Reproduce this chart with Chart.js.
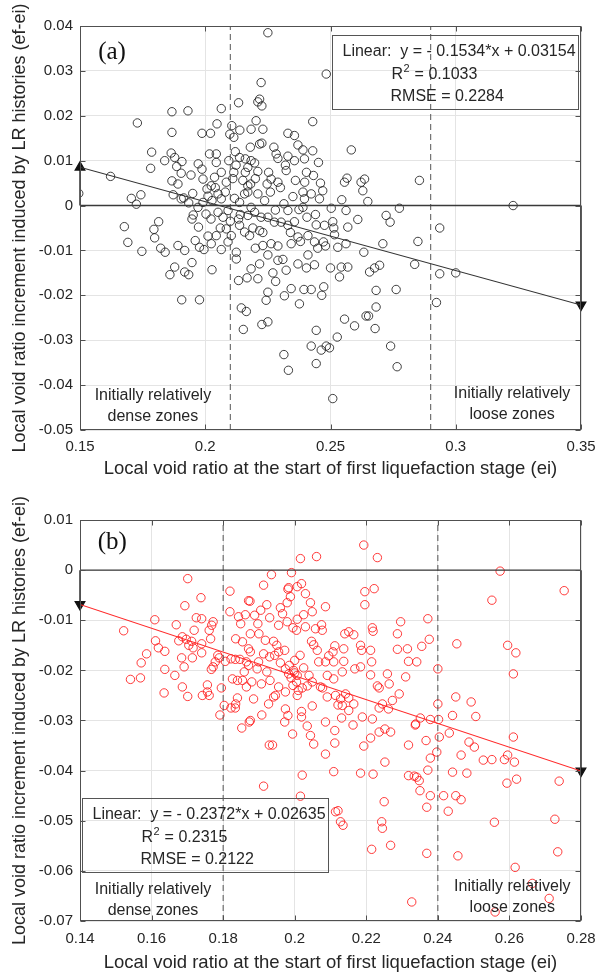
<!DOCTYPE html>
<html>
<head>
<meta charset="utf-8">
<script src="https://cdn.jsdelivr.net/npm/chart.js@4.4.1/dist/chart.umd.min.js"></script>
<style>
  html, body { margin: 0; padding: 0; background: #fff; }
  #wrap { position: relative; width: 611px; height: 973px; }
  canvas { position: absolute; left: 0; }
  #chartA { top: 0; }
  #chartB { top: 486px; }
</style>
</head>
<body>
<div id="wrap">
  <canvas id="chartA" width="611" height="486"></canvas>
  <canvas id="chartB" width="611" height="487"></canvas>
</div>
<script>
// ---------- panel (a) ----------
const xTicksA = [0.15, 0.2, 0.25, 0.3, 0.35]
const yTicksA = [0.04, 0.03, 0.02, 0.01, 0, -0.01, -0.02, -0.03, -0.04, -0.05]
const zonesA = [0.21, 0.29]
const fitA = { slope: -0.1534, icpt: 0.03154, r2: "0.1033", rmse: "0.2284" }
// [ei, ef-ei]
const pointsA = [
  [0.1495,0.0027],[0.1622,0.0065],[0.1705,0.0016],[0.1725,0.0003],[0.1743,0.0024],[0.1729,0.0184],
  [0.1677,-0.0047],[0.1691,-0.0082],[0.1747,-0.0102],[0.1786,0.0119],[0.1782,0.0083],[0.1838,0.0100],
  [0.1814,-0.0036],[0.1795,-0.0053],[0.1798,-0.0072],[0.1822,-0.0095],[0.1840,-0.0104],[0.1867,0.0209],
  [0.1931,0.0211],[0.1867,0.0163],[0.2064,0.0216],[0.2133,0.0229],[0.1987,0.0161],[0.2021,0.0161],
  [0.2047,0.0182],[0.1864,0.0117],[0.1878,0.0107],[0.1907,0.0098],[0.1886,0.0087],[0.1904,0.0072],
  [0.1867,0.0055],[0.1891,0.0048],[0.1872,0.0024],[0.1904,0.0015],[0.1914,0.0017],[0.1943,0.0068],
  [0.1950,0.0027],[0.1934,0.0006],[0.1972,0.0093],[0.1987,0.0081],[0.2017,0.0115],[0.2044,0.0115],
  [0.2044,0.0096],[0.1991,0.0059],[0.2007,0.0037],[0.2024,0.0044],[0.2037,0.0063],[0.2064,0.0074],
  [0.2084,0.0052],[0.2094,0.0100],[0.2123,0.0090],[0.2114,0.0074],[0.2098,0.0159],[0.2114,0.0152],
  [0.2106,0.0178],[0.2138,0.0168],[0.1971,-0.0004],[0.1991,0.0007],[0.2011,0.0021],[0.2027,0.0011],
  [0.2051,0.0026],[0.2064,0.0015],[0.1952,-0.0021],[0.1947,-0.0030],[0.1973,-0.0048],[0.2003,-0.0019],
  [0.2023,-0.0030],[0.2051,-0.0015],[0.2071,-0.0026],[0.2091,-0.0011],[0.1891,-0.0089],[0.1918,-0.0100],
  [0.1960,-0.0078],[0.1977,-0.0093],[0.1995,-0.0098],[0.2011,-0.0068],[0.2024,-0.0085],[0.2044,-0.0067],
  [0.2064,-0.0098],[0.2084,-0.0052],[0.2091,-0.0081],[0.2104,-0.0067],[0.2124,-0.0104],[0.1878,-0.0137],
  [0.1859,-0.0154],[0.1918,-0.0148],[0.1934,-0.0154],[0.1947,-0.0127],[0.2027,-0.0143],[0.1906,-0.0210],
  [0.1977,-0.0210],[0.2133,-0.0167],[0.2144,-0.0228],[0.2164,-0.0236],[0.2152,-0.0276],[0.2117,0.0016],
  [0.2137,0.0007],[0.2157,0.0026],[0.2133,-0.0030],[0.2137,-0.0044],[0.2157,-0.0059],[0.2124,-0.0119],
  [0.2167,-0.0161],[0.2137,0.0107],[0.2160,0.0104],[0.2150,0.0056],[0.2170,0.0044],[0.2160,0.0074],
  [0.2250,0.0385],[0.2483,0.0293],[0.2223,0.0274],[0.2217,0.0237],[0.2226,0.0222],[0.2210,0.0231],
  [0.2203,0.0189],[0.2230,0.0170],[0.2183,0.0170],[0.2217,0.0137],[0.2226,0.0139],[0.2330,0.0161],
  [0.2356,0.0156],[0.2429,0.0187],[0.2583,0.0124],[0.2274,0.0130],[0.2283,0.0115],[0.2290,0.0105],
  [0.2370,0.0135],[0.2390,0.0124],[0.2429,0.0122],[0.2396,0.0104],[0.2452,0.0096],[0.2356,0.0100],
  [0.2183,0.0100],[0.2170,0.0085],[0.2197,0.0095],[0.2210,0.0076],[0.2253,0.0074],[0.2263,0.0059],
  [0.2247,0.0048],[0.2290,0.0052],[0.2323,0.0078],[0.2360,0.0056],[0.2404,0.0074],[0.2432,0.0067],
  [0.2397,0.0052],[0.2181,0.0048],[0.2170,0.0030],[0.2210,0.0026],[0.2237,0.0011],[0.2183,-0.0004],
  [0.2314,0.0004],[0.2330,-0.0011],[0.2374,-0.0009],[0.2396,0.0015],[0.2423,0.0026],[0.2456,0.0015],
  [0.2469,0.0033],[0.2390,-0.0004],[0.2406,-0.0026],[0.2503,-0.0006],[0.2545,0.0013],[0.2556,0.0052],
  [0.2566,0.0061],[0.2622,0.0052],[0.2636,0.0059],[0.2629,0.0033],[0.2649,0.0009],[0.2562,-0.0011],
  [0.2609,-0.0031],[0.2569,-0.0048],[0.2509,-0.0036],[0.2513,-0.0050],[0.2476,-0.0044],[0.2443,-0.0043],
  [0.2722,-0.0022],[0.2738,-0.0037],[0.2775,-0.0006],[0.2709,-0.0085],[0.2855,0.0056],[0.2849,-0.0080],
  [0.2170,-0.0022],[0.2197,-0.0015],[0.2223,-0.0026],[0.2250,-0.0026],[0.2276,-0.0037],[0.2303,-0.0037],
  [0.2330,-0.0044],[0.2356,-0.0036],[0.2177,-0.0067],[0.2217,-0.0056],[0.2230,-0.0089],[0.2263,-0.0085],
  [0.2290,-0.0090],[0.2343,-0.0085],[0.2370,-0.0070],[0.2410,-0.0067],[0.2436,-0.0081],[0.2449,-0.0095],
  [0.2472,-0.0081],[0.2516,-0.0065],[0.2529,-0.0093],[0.2562,-0.0085],[0.2633,-0.0104],[0.2183,-0.0141],
  [0.2217,-0.0130],[0.2290,-0.0122],[0.2323,-0.0144],[0.2370,-0.0130],[0.2404,-0.0139],[0.2436,-0.0132],
  [0.2500,-0.0139],[0.2536,-0.0159],[0.2569,-0.0137],[0.2543,-0.0137],[0.2656,-0.0148],[0.2676,-0.0139],
  [0.2696,-0.0133],[0.2210,-0.0163],[0.2250,-0.0193],[0.2281,-0.0169],[0.2316,-0.0201],[0.2343,-0.0185],
  [0.2376,-0.0219],[0.2394,-0.0187],[0.2423,-0.0187],[0.2465,-0.0200],[0.2473,-0.0181],[0.2243,-0.0211],
  [0.2682,-0.0189],[0.2682,-0.0226],[0.2652,-0.0246],[0.2642,-0.0246],[0.2678,-0.0274],[0.2762,-0.0187],
  [0.2556,-0.0253],[0.2596,-0.0268],[0.2226,-0.0265],[0.2250,-0.0259],[0.2443,-0.0278],[0.2527,-0.0293],
  [0.2423,-0.0313],[0.2483,-0.0313],[0.2496,-0.0317],[0.2463,-0.0322],[0.2314,-0.0332],[0.2443,-0.0352],
  [0.2332,-0.0367],[0.2740,-0.0313],[0.2766,-0.0359],[0.2509,-0.0430],[0.3229,0.0000],[0.2936,-0.0050],
  [0.2836,-0.0131],[0.2936,-0.0152],[0.3000,-0.0150],[0.2923,-0.0216],
  [0.2120,0.0120],[0.2180,0.0130],[0.2140,-0.0020],[0.2190,-0.0050],[0.2200,0.0060],[0.2230,-0.0060],
  [0.2260,0.0030],[0.2280,-0.0010],[0.2300,0.0040],[0.2320,0.0090],[0.2340,-0.0060],[0.2250,-0.0110],
  [0.2200,-0.0095],[0.2100,-0.0035],[0.2080,0.0030],[0.2060,-0.0050],[0.2040,0.0040],[0.2110,0.0060],
  [0.2270,-0.0150],[0.2310,-0.0120],[0.2380,-0.0080],[0.2410,-0.0110],[0.2440,-0.0020],[0.2460,0.0050],
  [0.2480,-0.0090],[0.2390,0.0030],[0.2350,0.0020],[0.2330,0.0110]
]

// ---------- panel (b) ----------
const xTicksB = [0.14, 0.16, 0.18, 0.2, 0.22, 0.24, 0.26, 0.28]
const yTicksB = [0.01, 0, -0.01, -0.02, -0.03, -0.04, -0.05, -0.06, -0.07]
const zonesB = [0.18, 0.24]
const fitB = { slope: -0.2372, icpt: 0.02635, r2: "0.2315", rmse: "0.2122" }
const pointsB = [
  [0.1522,-0.0121],[0.1541,-0.0218],[0.1569,-0.0215],[0.1571,-0.0185],[0.1586,-0.0167],[0.1609,-0.0099],
  [0.1611,-0.0141],[0.1619,-0.0155],[0.1637,-0.0162],[0.1637,-0.0198],[0.1635,-0.0245],[0.1665,-0.0210],
  [0.1669,-0.0109],[0.1693,-0.0071],[0.1701,-0.0017],[0.1738,-0.0055],[0.1676,-0.0141],[0.1686,-0.0133],
  [0.1697,-0.0138],[0.1704,-0.0150],[0.1712,-0.0142],[0.1719,-0.0120],[0.1725,-0.0095],[0.1740,-0.0097],
  [0.1716,-0.0155],[0.1684,-0.0175],[0.1691,-0.0193],[0.1714,-0.0175],[0.1686,-0.0233],[0.1701,-0.0252],
  [0.1740,-0.0147],[0.1740,-0.0165],[0.1761,-0.0120],[0.1768,-0.0110],[0.1772,-0.0103],[0.1765,-0.0137],
  [0.1742,-0.0250],[0.1756,-0.0243],[0.1756,-0.0229],[0.1761,-0.0250],[0.1767,-0.0198],[0.1772,-0.0193],
  [0.1778,-0.0183],[0.1789,-0.0175],[0.1785,-0.0170],[0.1795,-0.0235],[0.1791,-0.0289],[0.1806,-0.0182],
  [0.1819,-0.0042],[0.1819,-0.0083],[0.1835,-0.0137],[0.1822,-0.0177],[0.1834,-0.0178],[0.1847,-0.0178],
  [0.1826,-0.0217],[0.1840,-0.0220],[0.1854,-0.0220],[0.1865,-0.0233],[0.1859,-0.0203],[0.1803,-0.0270],
  [0.1822,-0.0275],[0.1834,-0.0275],[0.1840,-0.0255],[0.1835,-0.0267],[0.1852,-0.0315],[0.1873,-0.0303],
  [0.1843,-0.0093],[0.1849,-0.0107],[0.1862,-0.0089],[0.1871,-0.0061],[0.1854,-0.0143],[0.1871,-0.0157],
  [0.1865,-0.0183],
  [0.2193,0.0050],[0.2016,0.0023],[0.2061,0.0027],[0.2231,0.0025],[0.1935,-0.0009],[0.1991,-0.0005],
  [0.1913,-0.0030],[0.1981,-0.0038],[0.2007,-0.0033],[0.2019,-0.0027],[0.2030,-0.0047],[0.2196,-0.0043],
  [0.2222,-0.0037],[0.1875,-0.0062],[0.1922,-0.0069],[0.2196,-0.0069],[0.1979,-0.0065],[0.1988,-0.0053],
  [0.2044,-0.0065],[0.2049,-0.0083],[0.2086,-0.0073],[0.2025,-0.0089],[0.1966,-0.0087],[0.1979,-0.0103],
  [0.2007,-0.0098],[0.2005,-0.0120],[0.2030,-0.0113],[0.2075,-0.0109],[0.2058,-0.0117],[0.2077,-0.0120],
  [0.2047,-0.0142],[0.2053,-0.0149],[0.1888,-0.0090],[0.1897,-0.0107],[0.1876,-0.0127],[0.1900,-0.0127],
  [0.1918,-0.0140],[0.1941,-0.0142],[0.1950,-0.0150],[0.1955,-0.0163],[0.1944,-0.0170],[0.1972,-0.0160],
  [0.1930,-0.0173],[0.1899,-0.0183],[0.1913,-0.0167],[0.1876,-0.0163],[0.1871,-0.0190],[0.1895,-0.0197],
  [0.1922,-0.0203],[0.1931,-0.0220],[0.1907,-0.0227],[0.1880,-0.0223],[0.1974,-0.0197],[0.1983,-0.0207],
  [0.1997,-0.0200],[0.2007,-0.0210],[0.2005,-0.0223],[0.1995,-0.0230],[0.2007,-0.0250],[0.1974,-0.0243],
  [0.1955,-0.0233],[0.2021,-0.0235],[0.1885,-0.0257],[0.1908,-0.0289],[0.1927,-0.0267],[0.1941,-0.0253],
  [0.1946,-0.0250],[0.1974,-0.0277],[0.1981,-0.0290],[0.1972,-0.0303],[0.2019,-0.0282],[0.2019,-0.0293],
  [0.2049,-0.0271],[0.1876,-0.0300],[0.2035,-0.0231],[0.2049,-0.0223],[0.2072,-0.0233],[0.2091,-0.0253],
  [0.2078,-0.0235],[0.2067,-0.0183],[0.2063,-0.0160],[0.2086,-0.0183],[0.2095,-0.0171],[0.2107,-0.0163],
  [0.2112,-0.0151],[0.2137,-0.0157],[0.2140,-0.0127],[0.2151,-0.0123],[0.2165,-0.0129],[0.2184,-0.0150],
  [0.2187,-0.0160],[0.2217,-0.0115],[0.2219,-0.0122],[0.2212,-0.0160],[0.2109,-0.0183],[0.2091,-0.0210],
  [0.2109,-0.0217],[0.2137,-0.0182],[0.2133,-0.0203],[0.2168,-0.0197],[0.2184,-0.0193],[0.2215,-0.0183],
  [0.2212,-0.0209],[0.2231,-0.0231],[0.2236,-0.0235],[0.2259,-0.0207],[0.2264,-0.0227],[0.2114,-0.0250],
  [0.2128,-0.0257],[0.2142,-0.0247],[0.2151,-0.0255],[0.2165,-0.0267],[0.2133,-0.0270],[0.2151,-0.0280],
  [0.2131,-0.0295],[0.2121,-0.0269],[0.2189,-0.0293],[0.2217,-0.0297],[0.2236,-0.0275],[0.2245,-0.0267],
  [0.2262,-0.0277],[0.2273,-0.0260],[0.2292,-0.0247],[0.2252,-0.0317],[0.2268,-0.0323],[0.2163,-0.0309],
  [0.2193,-0.0351],[0.2212,-0.0335],[0.2236,-0.0323],[0.2086,-0.0303],[0.2035,-0.0311],[0.2044,-0.0330],
  [0.2053,-0.0347],[0.2112,-0.0320],[0.2112,-0.0345],[0.1994,-0.0327],[0.1929,-0.0349],[0.1938,-0.0349],
  [0.2086,-0.0367],[0.2318,-0.0349],[0.2296,-0.0103],[0.2287,-0.0127],[0.2315,-0.0157],[0.2287,-0.0158],
  [0.2318,-0.0182],[0.2310,-0.0213],[0.2338,-0.0307],[0.2252,-0.0383],[0.2318,-0.0410],[0.2334,-0.0411],
  [0.2109,-0.0402],[0.2021,-0.0409],[0.1913,-0.0431],[0.2184,-0.0405],[0.2219,-0.0407],[0.2016,-0.0451],
  [0.2114,-0.0482],[0.2121,-0.0480],[0.2128,-0.0502],[0.2135,-0.0509],[0.2250,-0.0462],[0.2243,-0.0502],
  [0.2245,-0.0515],[0.2268,-0.0549],[0.2215,-0.0557],[0.2327,-0.0662],[0.1983,-0.0035],
  [0.2574,-0.0002],[0.2753,-0.0041],[0.2551,-0.0060],[0.2372,-0.0097],[0.2376,-0.0138],[0.2355,-0.0152],
  [0.2341,-0.0183],[0.2400,-0.0197],[0.2453,-0.0147],[0.2595,-0.0150],[0.2618,-0.0165],[0.2611,-0.0207],
  [0.2450,-0.0253],[0.2493,-0.0263],[0.2400,-0.0267],[0.2441,-0.0290],[0.2506,-0.0292],[0.2351,-0.0295],
  [0.2379,-0.0298],[0.2402,-0.0298],[0.2337,-0.0309],[0.2404,-0.0333],[0.2432,-0.0325],[0.2367,-0.0340],
  [0.2611,-0.0333],[0.2397,-0.0363],[0.2379,-0.0375],[0.2487,-0.0343],[0.2502,-0.0353],[0.2465,-0.0369],
  [0.2527,-0.0379],[0.2551,-0.0378],[0.2586,-0.0378],[0.2595,-0.0369],[0.2614,-0.0383],[0.2372,-0.0399],
  [0.2441,-0.0403],[0.2481,-0.0405],[0.2341,-0.0413],[0.2348,-0.0420],[0.2350,-0.0440],[0.2593,-0.0425],
  [0.2620,-0.0417],[0.2739,-0.0421],[0.2379,-0.0450],[0.2416,-0.0450],[0.2450,-0.0450],[0.2465,-0.0458],
  [0.2429,-0.0481],[0.2369,-0.0473],[0.2558,-0.0503],[0.2727,-0.0497],[0.2369,-0.0565],[0.2456,-0.0570],
  [0.2735,-0.0562],[0.2616,-0.0593],[0.2664,-0.0625],[0.2711,-0.0655],[0.2560,-0.0682],
  [0.1930,-0.0095],[0.1905,-0.0080],[0.1955,-0.0110],[0.1960,-0.0075],[0.1995,-0.0115],[0.2000,-0.0180],
  [0.1985,-0.0190],[0.2015,-0.0170],[0.2025,-0.0195],[0.2040,-0.0210],[0.1960,-0.0185],[0.2000,-0.0205],
  [0.2010,-0.0240],[0.1990,-0.0215]
]

const FONT = "'Liberation Sans', Arial, sans-serif"
const TXT = "#262626"

// cuadro, marcas interiores y textos de cada panel
const framePlugin = {
  id: "frame",
  afterDatasetsDraw(chart, args, o) {
    const { ctx, chartArea: a } = chart
    const sx = chart.scales.x, sy = chart.scales.y
    const px = v => sx.getPixelForValue(v)
    const py = v => sy.getPixelForValue(v)
    ctx.save()
    ctx.strokeStyle = "#505050"
    ctx.lineWidth = 1
    const L = Math.round(a.left) + 0.5, T = Math.round(a.top) + 0.5
    const R = Math.round(a.right) - 0.5, B = Math.round(a.bottom) - 0.5
    ctx.strokeRect(L, T, R - L, B - T)
    ctx.beginPath()
    sx.ticks.forEach(t => {
      const x = Math.round(px(t.value)) + 0.5
      ctx.moveTo(x, B); ctx.lineTo(x, B - 5)
      ctx.moveTo(x, T); ctx.lineTo(x, T + 5)
    })
    sy.ticks.forEach(t => {
      const y = Math.round(py(t.value)) + 0.5
      ctx.moveTo(L, y); ctx.lineTo(L + 5, y)
      ctx.moveTo(R, y); ctx.lineTo(R - 5, y)
    })
    ctx.stroke()

    // (a) / (b)
    ctx.fillStyle = "#111"
    ctx.textBaseline = "middle"
    ctx.textAlign = "center"
    ctx.font = "25px 'Liberation Serif', 'Times New Roman', serif"
    ctx.fillText(o.tag, px(o.tagAt[0]), py(o.tagAt[1]))

    // cuadro de la regresion
    const bx0 = Math.round(px(o.box[0])) + 0.5, by0 = Math.round(py(o.box[1])) + 0.5
    const bx1 = Math.round(px(o.box[2])) + 0.5, by1 = Math.round(py(o.box[3])) + 0.5
    ctx.strokeStyle = "#555"
    ctx.strokeRect(bx0, by0, bx1 - bx0, by1 - by0)
    ctx.fillStyle = TXT
    ctx.textAlign = "left"
    ctx.font = "16px " + FONT
    ctx.fillText("Linear:  y = - " + (-o.fit.slope).toFixed(4) + "*x + " + o.fit.icpt.toFixed(5), bx0 + 10, by0 + 16)
    let x2 = bx0 + 59
    ctx.fillText("R", x2, by0 + 39)
    x2 += ctx.measureText("R").width
    ctx.font = "11px " + FONT
    ctx.fillText("2", x2 + 0.5, by0 + 33)
    x2 += ctx.measureText("2").width + 1
    ctx.font = "16px " + FONT
    ctx.fillText(" = " + o.fit.r2, x2, by0 + 39)
    ctx.fillText("RMSE = " + o.fit.rmse, bx0 + 58, by0 + 61)

    // zonas
    ctx.textAlign = "center"
    o.zoneText.forEach(z => {
      ctx.fillText(z.lines[0], px(z.at[0]), py(z.at[1]))
      ctx.fillText(z.lines[1], px(z.at[0]), py(z.at[1]) + 21)
    })
    ctx.restore()
  }
}

function makePanel(id, cfg) {
  const xmin = cfg.xTicks[0], xmax = cfg.xTicks[cfg.xTicks.length - 1]
  const ymax = cfg.yTicks[0], ymin = cfg.yTicks[cfg.yTicks.length - 1]
  const fitAt = x => cfg.fit.slope * x + cfg.fit.icpt
  const datasets = []

  // recta de ajuste
  datasets.push({
    type: "line", data: [{ x: xmin, y: fitAt(xmin) }, { x: xmax, y: fitAt(xmax) }],
    borderColor: cfg.fitColor, borderWidth: 1.1, pointRadius: 0
  })
  // flechas verticales desde y = 0 hasta la recta
  cfg.arrows.forEach(xv => {
    const yv = fitAt(xv)
    datasets.push({
      type: "line", data: [{ x: xv, y: 0 }, { x: xv, y: yv }], clip: false,
      borderColor: "#111", borderWidth: 1.3,
      pointRadius: [0, 5.5], pointStyle: "triangle", pointRotation: yv > 0 ? 0 : 180,
      pointBackgroundColor: "#111", pointBorderColor: "#111"
    })
  })
  // linea y = 0
  datasets.push({
    type: "line", data: [{ x: xmin, y: 0 }, { x: xmax, y: 0 }],
    borderColor: "#3a3a3a", borderWidth: 1.4, pointRadius: 0
  })
  // limites de zonas (discontinuas)
  cfg.zones.forEach(xv => {
    datasets.push({
      type: "line", data: [{ x: xv, y: ymin }, { x: xv, y: ymax }],
      borderColor: "#555", borderWidth: 1, borderDash: [6, 4], pointRadius: 0
    })
  })
  // puntos
  datasets.push({
    type: "scatter", data: cfg.points.map(p => ({ x: p[0], y: p[1] })),
    pointStyle: "circle", pointRadius: 4.2, pointHoverRadius: 4.2,
    borderColor: cfg.ptColor, backgroundColor: "rgba(0,0,0,0)", borderWidth: 1
  })

  return new Chart(document.getElementById(id), {
    type: "scatter",
    data: { datasets: datasets },
    plugins: [framePlugin],
    options: {
      responsive: false,
      animation: false,
      layout: { padding: { top: cfg.padTop, right: 30, left: 0, bottom: 0 } },
      plugins: {
        legend: { display: false },
        tooltip: { enabled: false },
        frame: cfg.notes
      },
      scales: {
        x: {
          type: "linear", min: xmin, max: xmax,
          afterBuildTicks: s => { s.ticks = cfg.xTicks.map(v => ({ value: v })) },
          afterFit: s => { s.height = cfg.xAxisH },
          ticks: { callback: v => String(v), font: { family: FONT, size: 15 }, color: TXT, padding: cfg.xTickPad, maxRotation: 0, autoSkip: false },
          grid: { color: "#e4e4e4", drawTicks: false },
          border: { display: false },
          title: {
            display: true, text: "Local void ratio at the start of first liquefaction stage (ei)",
            font: { family: FONT, size: 18.5 }, color: TXT, padding: { top: 0, bottom: cfg.xTitlePad }
          }
        },
        y: {
          type: "linear", min: ymin, max: ymax,
          afterBuildTicks: s => { s.ticks = cfg.yTicks.map(v => ({ value: v })) },
          afterFit: s => { s.width = 80 },
          ticks: { callback: v => String(v), font: { family: FONT, size: 15 }, color: TXT, padding: 7, autoSkip: false },
          grid: { color: "#e4e4e4", drawTicks: false },
          border: { display: false },
          title: {
            display: true, text: "Local void ratio increment induced by LR histories (ef-ei)",
            font: { family: FONT, size: 18 }, color: TXT, padding: { top: 9, bottom: 0 }
          }
        }
      }
    }
  })
}

makePanel("chartA", {
  xTicks: xTicksA, yTicks: yTicksA, zones: zonesA, fit: fitA, points: pointsA,
  arrows: [0.15, 0.35], fitColor: "#333", ptColor: "rgba(30,30,30,0.85)",
  padTop: 26, xAxisH: 56, xTickPad: 8, xTitlePad: 6,
  notes: {
    tag: "(a)", tagAt: [0.1628, 0.034], fit: fitA,
    box: [0.2506, 0.0380, 0.3488, 0.0216],
    zoneText: [
      { lines: ["Initially relatively", "dense zones"], at: [0.1791, -0.0424] },
      { lines: ["Initially relatively", "loose zones"], at: [0.3225, -0.0420] }
    ]
  }
})

makePanel("chartB", {
  xTicks: xTicksB, yTicks: yTicksB, zones: zonesB, fit: fitB, points: pointsB,
  arrows: [0.14, 0.28], fitColor: "#ff2a2a", ptColor: "rgba(255,25,25,0.85)",
  padTop: 34, xAxisH: 52, xTickPad: 9, xTitlePad: -1,
  notes: {
    tag: "(b)", tagAt: [0.149, 0.0056], fit: fitB,
    box: [0.1406, -0.0455, 0.2094, -0.0603],
    zoneText: [
      { lines: ["Initially relatively", "dense zones"], at: [0.1604, -0.0638] },
      { lines: ["Initially relatively", "loose zones"], at: [0.2608, -0.0632] }
    ]
  }
})
</script>
</body>
</html>
